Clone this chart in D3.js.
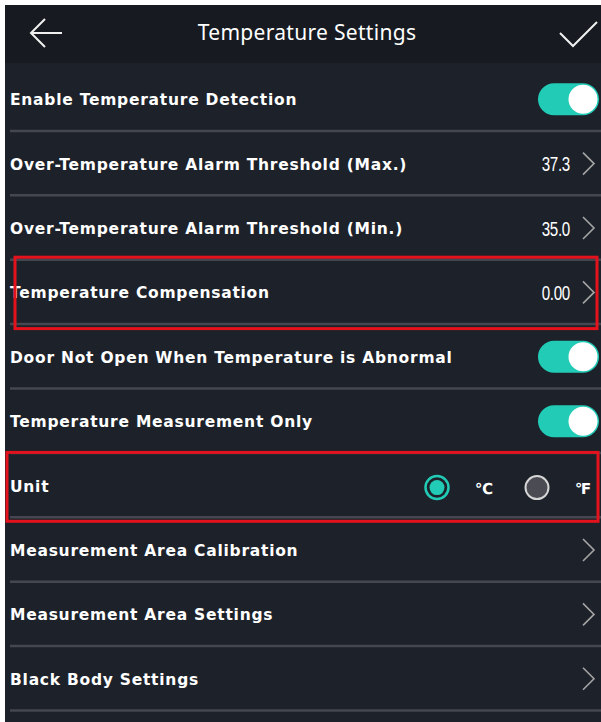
<!DOCTYPE html>
<html>
<head>
<meta charset="utf-8">
<script src="https://cdn.jsdelivr.net/npm/d3@7/dist/d3.min.js"></script>
<style>
  html, body { margin: 0; padding: 0; background: #ffffff; }
  svg { display: block; }
</style>
</head>
<body>
<div id="chart"></div>
<script>
// ---- data ----
const title = "Temperature Settings";
const labels = [
  "Enable Temperature Detection",
  "Over-Temperature Alarm Threshold (Max.)",
  "Over-Temperature Alarm Threshold (Min.)",
  "Temperature Compensation",
  "Door Not Open When Temperature is Abnormal",
  "Temperature Measurement Only",
  "Unit",
  "Measurement Area Calibration",
  "Measurement Area Settings",
  "Black Body Settings"
];
const controls = ["toggle", "value", "value", "value", "toggle", "toggle", "unit", "link", "link", "link"];
const values = [null, "37.3", "35.0", "0.00", null, null, null, null, null, null];
const toggleOn = [true, null, null, null, true, true, null, null, null, null];
const unitOptions = ["℃", "℉"];
const unitSelected = "℃";
const highlighted = ["Temperature Compensation", "Unit"];

// ---- layout ----
const W = 601, H = 722;
const svg = d3.select("#chart").append("svg").attr("width", W).attr("height", H);

const C = {
  header: "#171b21", body: "#1d222a", sep: "#45464f", text: "#ffffff",
  teal: "#22cbb6", chevron: "#a4a4a4", red: "#e3121d", radioOff: "#4b4c53"
};

// background
svg.append("rect").attr("x", 5).attr("y", 5).attr("width", W - 5).attr("height", 58).attr("fill", C.header);
svg.append("rect").attr("x", 5).attr("y", 63).attr("width", W - 5).attr("height", H - 63).attr("fill", C.body);

// header
svg.append("text").attr("x", 307).attr("y", 40).attr("text-anchor", "middle")
  .attr("font-family", "'Noto Sans', 'Open Sans', sans-serif").attr("font-size", 21)
  .attr("letter-spacing", 0.3)
  .attr("fill", C.text).text(title);
svg.append("path").attr("d", "M62,33 H31 M45,19 L31,33 L45,47")
  .attr("fill", "none").attr("stroke", "#f0f0f0").attr("stroke-width", 2);
svg.append("path").attr("d", "M560,33 L573,46 L597,22")
  .attr("fill", "none").attr("stroke", "#f0f0f0").attr("stroke-width", 2);

// rows
const y = d3.scaleBand().domain(d3.range(labels.length)).range([67, 711]).paddingInner(0);
const bw = y.bandwidth();

const rows = svg.selectAll("g.row").data(labels).join("g").attr("class", "row")
  .attr("transform", (d, i) => `translate(0,${y(i)})`);

rows.append("line").attr("x1", 10).attr("x2", W).attr("y1", bw - 0.5).attr("y2", bw - 0.5)
  .attr("stroke", C.sep).attr("stroke-width", 2.5);

rows.append("text").attr("x", 10).attr("y", bw / 2 + 6)
  .attr("font-family", "'DejaVu Sans', sans-serif").attr("font-weight", "bold")
  .attr("font-size", 15.5).attr("letter-spacing", 0.75).attr("fill", C.text).text(d => d);

const cy = bw / 2;

// toggles
rows.filter((d, i) => controls[i] === "toggle").each(function (d, i) {
  const g = d3.select(this);
  g.append("rect").attr("x", 538).attr("y", cy - 16).attr("width", 61).attr("height", 32)
    .attr("rx", 16).attr("fill", C.teal);
  g.append("circle").attr("cx", 583).attr("cy", cy).attr("r", 14.5).attr("fill", "#ffffff");
});

// values
rows.filter((d, i) => controls[i] === "value").append("text")
  .attr("transform", `translate(570,${cy + 7.5}) scale(0.74,1)`).attr("text-anchor", "end")
  .attr("font-family", "'Liberation Sans', sans-serif")
  .attr("font-size", 20.5).attr("letter-spacing", -0.4).attr("fill", C.text)
  .text(d => values[labels.indexOf(d)]);

// chevrons
rows.filter((d, i) => controls[i] === "value" || controls[i] === "link").append("path")
  .attr("d", `M583,${cy - 11} L594,${cy} L583,${cy + 11}`)
  .attr("fill", "none").attr("stroke", C.chevron).attr("stroke-width", 1.6);

// unit radios
const unitRow = rows.filter((d, i) => controls[i] === "unit");
const ux = d3.scalePoint().domain(unitOptions).range([437, 537]);
unitOptions.forEach(u => {
  const sel = u === unitSelected;
  if (sel) {
    unitRow.append("circle").attr("cx", ux(u)).attr("cy", cy + 2).attr("r", 11.5)
      .attr("fill", "none").attr("stroke", C.teal).attr("stroke-width", 2.5);
    unitRow.append("circle").attr("cx", ux(u)).attr("cy", cy + 2).attr("r", 7.5).attr("fill", C.teal);
  } else {
    unitRow.append("circle").attr("cx", ux(u)).attr("cy", cy + 2).attr("r", 11.5)
      .attr("fill", C.radioOff).attr("stroke", "#d6d6d6").attr("stroke-width", 2);
  }
  unitRow.append("text").attr("x", ux(u) + 38).attr("y", cy + 8)
    .attr("font-family", "'DejaVu Sans', sans-serif").attr("font-weight", "bold")
    .attr("font-size", 15).attr("letter-spacing", -0.5).attr("fill", C.text).text(u);
});

// highlight boxes
const boxSpec = { "Temperature Compensation": [15, 597, -3, 4], "Unit": [7, 598, -1, 3.5] };
highlighted.forEach(h => {
  const i = labels.indexOf(h);
  const s = boxSpec[h];
  svg.append("rect").attr("x", s[0]).attr("y", y(i) + s[2])
    .attr("width", s[1] - s[0]).attr("height", bw - s[2] + s[3])
    .attr("fill", "none").attr("stroke", C.red).attr("stroke-width", 3);
});
</script>
</body>
</html>
